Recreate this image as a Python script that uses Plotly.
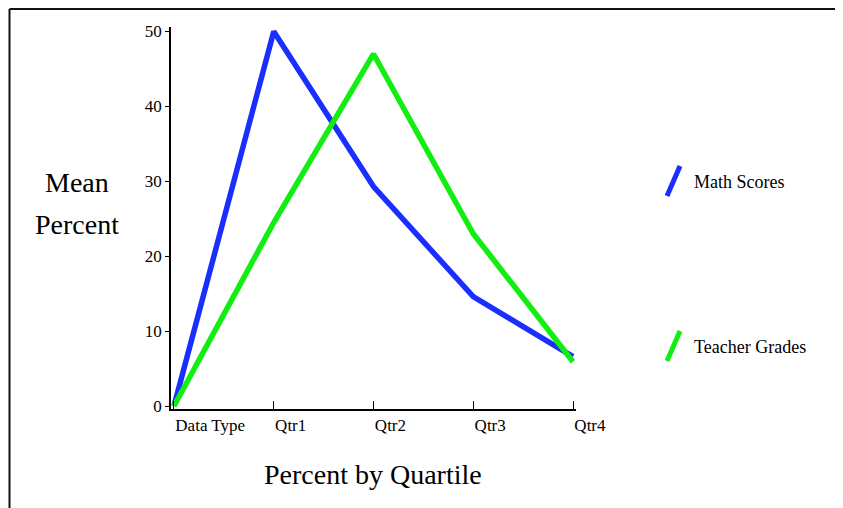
import plotly.graph_objects as go

categories = ["Data Type", "Qtr1", "Qtr2", "Qtr3", "Qtr4"]
math_scores = [0, 50, 29.3, 14.6, 6.6]
teacher_grades = [0, 24.5, 47, 23, 5.9]
series_names = ["Math Scores", "Teacher Grades"]
y_ticks = [0, 10, 20, 30, 40, 50]

# page body has an 8px margin; compensate so the picture lands where the reference has it
OFF = 8
W, H = 843, 508
PW, PH = 405, 382
L, T = 171 - OFF, 27 - OFF
R, B = W - L - PW, H - T - PH

def px(x):
    return (x - OFF - L) / PW

def py(y):
    return (T + PH - (y - OFF)) / PH

BLUE = "#1a2eff"
GREEN = "#12ee12"
FONT = "Liberation Serif"

fig = go.Figure()
fig.add_trace(go.Scatter(x=categories, y=math_scores, mode="lines",
                         line=dict(color=BLUE, width=5.5), name=series_names[0]))
fig.add_trace(go.Scatter(x=categories, y=teacher_grades, mode="lines",
                         line=dict(color=GREEN, width=5.5), name=series_names[1]))

fig.update_layout(
    width=W, height=H,
    margin=dict(l=L, r=R, t=T, b=B, pad=0),
    paper_bgcolor="white", plot_bgcolor="white",
    showlegend=False,
    font=dict(family=FONT, color="black"),
    xaxis=dict(type="category", range=[-0.03, 4.03], showgrid=False, zeroline=False,
               showline=True, linecolor="black", linewidth=1.5,
               ticks="inside", ticklen=8, tickwidth=1.2, tickcolor="black",
               ticklabelposition="outside right", tickfont=dict(size=17, family=FONT),
               automargin=False),
    yaxis=dict(range=[-0.4, 50.6], showgrid=False, zeroline=False,
               showline=True, linecolor="black", linewidth=1.5,
               ticks="outside", ticklen=4, tickwidth=1.2, tickcolor="black",
               tickvals=y_ticks, tickfont=dict(size=17, family=FONT),
               ticklabelstandoff=0, automargin=False),
)

# Axis titles
fig.add_annotation(x=px(373), y=py(474), xref="paper", yref="paper", text="Percent by Quartile",
                   showarrow=False, font=dict(size=28, family=FONT), xanchor="center", yanchor="middle")
fig.add_annotation(x=px(77), y=py(182), xref="paper", yref="paper", text="Mean",
                   showarrow=False, font=dict(size=28, family=FONT), xanchor="center", yanchor="middle")
fig.add_annotation(x=px(77), y=py(225), xref="paper", yref="paper", text="Percent",
                   showarrow=False, font=dict(size=28, family=FONT), xanchor="center", yanchor="middle")

# Custom legend
legend_items = [(series_names[0], BLUE, 182), (series_names[1], GREEN, 347)]
for name, color, yc in legend_items:
    fig.add_shape(type="line", xref="paper", yref="paper",
                  x0=px(667), y0=py(yc + 14), x1=px(680), y1=py(yc - 16),
                  line=dict(color=color, width=5))
    fig.add_annotation(x=px(692), y=py(yc), xref="paper", yref="paper", text=name,
                       showarrow=False, font=dict(size=18, family=FONT),
                       xanchor="left", yanchor="middle")

# Page frame
fig.add_shape(type="line", xref="paper", yref="paper", x0=px(9.5), y0=py(9), x1=px(W + 20), y1=py(9),
              line=dict(color="#111111", width=2))
fig.add_shape(type="line", xref="paper", yref="paper", x0=px(9.5), y0=py(9), x1=px(9.5), y1=py(H + 20),
              line=dict(color="#111111", width=2))

fig.write_html("out.html")
